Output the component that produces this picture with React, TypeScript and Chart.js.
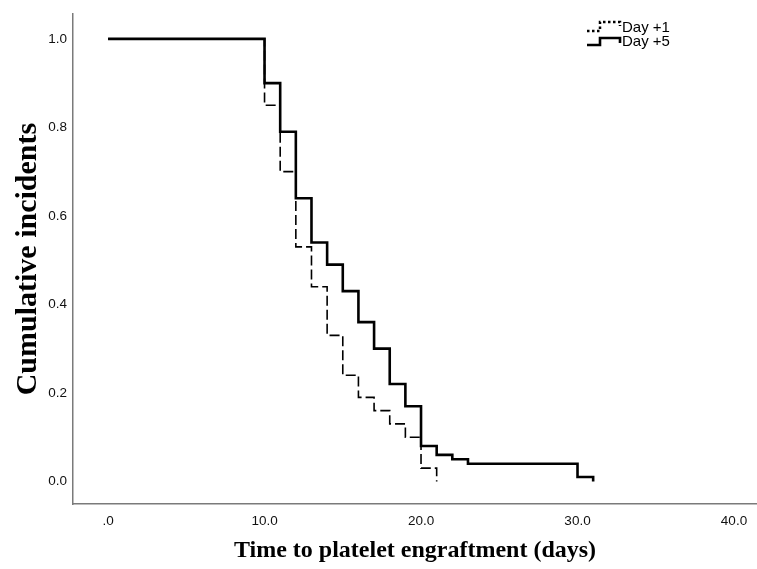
import React, { useEffect, useRef } from "react";
import { Chart, registerables } from "chart.js";

Chart.register(...registerables);

const seriesNames = ["Day +1", "Day +5"];

const day1Times = [0, 10, 11, 12, 13, 14, 15, 16, 17, 18, 19, 20, 21];
const day1Values = [1.0, 0.85, 0.70, 0.53, 0.44, 0.33, 0.24, 0.19, 0.16, 0.13, 0.10, 0.03, 0.0];

const day5Times = [0, 10, 11, 12, 13, 14, 15, 16, 17, 18, 19, 20, 21, 22, 23, 30, 31];
const day5Values = [1.0, 0.90, 0.79, 0.64, 0.54, 0.49, 0.43, 0.36, 0.30, 0.22, 0.17, 0.08, 0.06, 0.05, 0.04, 0.01, 0.0];

const xTickValues = [0, 10, 20, 30, 40];
const yTickValues = [0, 0.2, 0.4, 0.6, 0.8, 1.0];

const xTitle = "Time to platelet engraftment (days)";
const yTitle = "Cumulative incidents";

const legendPlugin = {
  id: "stepLegend",
  afterDraw(chart: any) {
    const ctx = chart.ctx;
    const gx = 587;
    const rows = [
      { y: 28, dash: [2.5, 2.5], width: 2.5, low: 3, high: -6, end: -2, label: seriesNames[0] },
      { y: 42, dash: [], width: 2.6, low: 3, high: -4, end: 1, label: seriesNames[1] },
    ];
    ctx.save();
    rows.forEach((r) => {
      ctx.strokeStyle = "#000";
      ctx.lineWidth = r.width;
      ctx.setLineDash(r.dash);
      ctx.beginPath();
      ctx.moveTo(gx, r.y + r.low);
      ctx.lineTo(gx + 13, r.y + r.low);
      ctx.lineTo(gx + 13, r.y + r.high);
      ctx.lineTo(gx + 33, r.y + r.high);
      ctx.lineTo(gx + 33, r.y + r.end);
      ctx.stroke();
      ctx.setLineDash([]);
      ctx.fillStyle = "#000";
      ctx.font = "15px 'Liberation Sans', Arial, sans-serif";
      ctx.textBaseline = "middle";
      ctx.textAlign = "left";
      ctx.fillText(r.label, 622, r.y);
    });
    ctx.restore();
  },
};

export default function App() {
  const canvasRef = useRef<HTMLCanvasElement | null>(null);

  useEffect(() => {
    document.body.style.margin = "0";
    const canvas = canvasRef.current;
    if (!canvas) return;
    const tickFont = { family: "'Liberation Sans', Arial, sans-serif", size: 13.5 };
    const chart = new Chart(canvas, {
      type: "line",
      data: {
        datasets: [
          {
            label: seriesNames[1],
            data: day5Times.map((t, i) => ({ x: t, y: day5Values[i] })),
            borderColor: "#000",
            borderWidth: 2.6,
            stepped: "before",
            pointRadius: 0,
            fill: false,
          },
          {
            label: seriesNames[0],
            data: day1Times.map((t, i) => ({ x: t, y: day1Values[i] })),
            borderColor: "#000",
            borderWidth: 1.6,
            borderDash: [10, 4],
            stepped: "before",
            pointRadius: 0,
            fill: false,
          },
        ],
      },
      options: {
        animation: false,
        responsive: false,
        maintainAspectRatio: false,
        layout: { padding: { top: 6, right: 0, left: 0, bottom: 0 } },
        plugins: {
          legend: { display: false },
          tooltip: { enabled: false },
        },
        scales: {
          x: {
            type: "linear",
            min: -2.24,
            max: 41.47,
            afterBuildTicks: (scale: any) => {
              scale.ticks = xTickValues.map((v) => ({ value: v }));
            },
            afterFit: (scale: any) => {
              scale.height = 65;
            },
            grid: { display: false, drawTicks: false },
            border: { display: true, color: "#7a7a7a", width: 1.5 },
            ticks: {
              padding: 9,
              color: "#111",
              font: tickFont,
              callback: (v: any) => (Number(v) === 0 ? ".0" : Number(v).toFixed(1)),
              maxRotation: 0,
              autoSkip: false,
            },
            title: {
              display: true,
              text: xTitle,
              color: "#000",
              font: { family: "'Liberation Serif', 'Times New Roman', serif", size: 24, weight: "bold" },
              padding: { top: 5, bottom: 4 },
            },
          },
          y: {
            type: "linear",
            min: -0.051,
            max: 1.056,
            afterBuildTicks: (scale: any) => {
              scale.ticks = yTickValues.map((v) => ({ value: v }));
            },
            afterFit: (scale: any) => {
              scale.width = 73;
            },
            grid: { display: false, drawTicks: false },
            border: { display: true, color: "#7a7a7a", width: 1.5 },
            ticks: {
              padding: 6,
              color: "#111",
              font: tickFont,
              callback: (v: any) => Number(v).toFixed(1),
              autoSkip: false,
            },
            title: {
              display: true,
              text: yTitle,
              color: "#000",
              font: { family: "'Liberation Serif', 'Times New Roman', serif", size: 30, weight: "bold" },
              padding: { top: 10, bottom: 0 },
            },
          },
        },
      },
      plugins: [legendPlugin],
    });
    return () => chart.destroy();
  }, []);

  return (
    <div style={{ position: "fixed", left: 0, top: 0, width: 757, height: 569, background: "#fff" }}>
      <canvas ref={canvasRef} width={757} height={569} style={{ width: 757, height: 569, display: "block" }} />
    </div>
  );
}
